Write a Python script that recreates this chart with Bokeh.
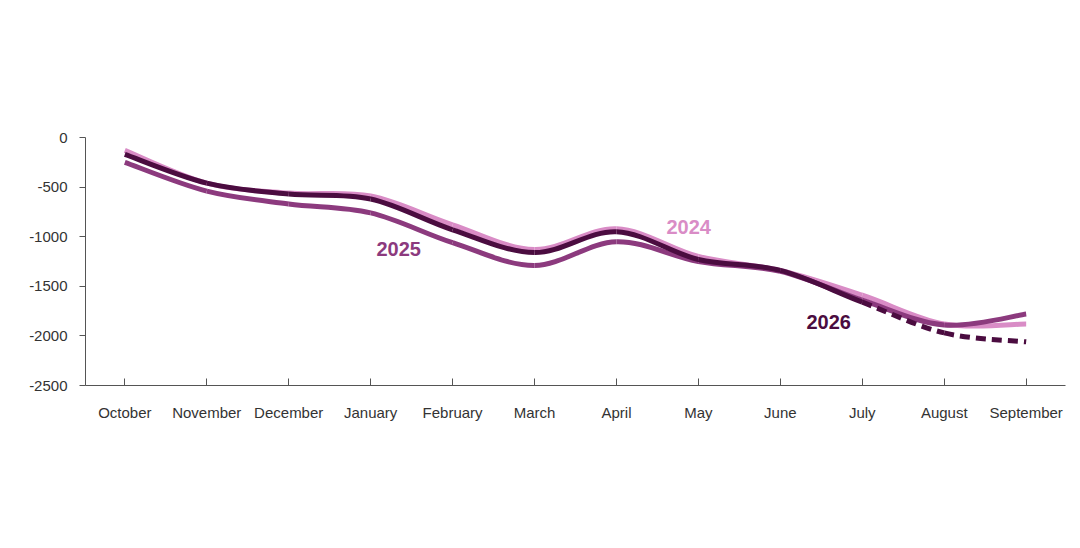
from bokeh.plotting import figure
from bokeh.models import Label, FixedTicker, Range1d, BoxAnnotation
from bokeh.embed import file_html
from bokeh.resources import INLINE

months = ["October", "November", "December", "January", "February", "March",
          "April", "May", "June", "July", "August", "September"]
fy2024 = [-130, -460, -560, -590, -880, -1130, -920, -1200, -1340, -1590, -1880, -1880]
fy2025 = [-250, -540, -670, -760, -1060, -1290, -1050, -1250, -1350, -1640, -1890, -1780]
fy2026 = [-170, -460, -570, -620, -930, -1160, -950, -1230, -1340, -1660, -1970, -2060]
actual_2026 = 10  # July onward are CBO estimates (dashed)
y_ticks = [0, -500, -1000, -1500, -2000, -2500]

C24, C25, C26 = "#d98cc6", "#8c3a7e", "#4b0c40"
W, H = 1075, 545
FL, FB = 85, 385  # frame left / bottom in page pixels

p = figure(width=W, height=H, output_backend="svg", toolbar_location=None,
           x_range=Range1d(-0.48, 11.48), y_range=Range1d(-2500, 0),
           min_border_left=FL, min_border_right=10, min_border_top=137,
           min_border_bottom=H - FB)
p.outline_line_color = None
p.grid.grid_line_color = None


def smooth(xs, ys, color, dash="solid", start=0, end=None):
    n = len(xs)
    end = n - 1 if end is None else end
    x0, y0, x1, y1, cx0, cy0, cx1, cy1 = [], [], [], [], [], [], [], []
    for i in range(start, end):
        a = max(i - 1, 0)
        d = min(i + 2, n - 1)
        x0.append(xs[i]); y0.append(ys[i]); x1.append(xs[i + 1]); y1.append(ys[i + 1])
        cx0.append(xs[i] + (xs[i + 1] - xs[a]) / 6); cy0.append(ys[i] + (ys[i + 1] - ys[a]) / 6)
        cx1.append(xs[i + 1] - (xs[d] - xs[i]) / 6); cy1.append(ys[i + 1] - (ys[d] - ys[i]) / 6)
    p.bezier(x0=x0, y0=y0, x1=x1, y1=y1, cx0=cx0, cy0=cy0, cx1=cx1, cy1=cy1,
             line_color=color, line_width=5, line_dash=dash)


idx = list(range(len(months)))
smooth(idx, fy2024, C24)
smooth(idx, fy2025, C25)
smooth(idx, fy2026, C26, end=actual_2026 - 1)
smooth(idx, fy2026, C26, dash="10 6", start=actual_2026 - 1)

p.xaxis.ticker = FixedTicker(ticks=idx)
p.xaxis.major_label_overrides = {i: m for i, m in enumerate(months)}
p.xaxis.major_tick_in = 7
p.xaxis.major_tick_out = 0
p.xaxis.major_label_standoff = 18
p.yaxis.ticker = FixedTicker(ticks=y_ticks)
p.yaxis.major_label_overrides = {t: str(t) for t in y_ticks}
p.yaxis.major_tick_in = 0
p.yaxis.major_tick_out = 6
p.yaxis.major_label_standoff = 12
for ax in (p.xaxis, p.yaxis):
    ax.axis_line_color = "#555555"
    ax.major_tick_line_color = "#555555"
    ax.minor_tick_line_color = None
    ax.major_label_text_font = "Liberation Sans"
    ax.major_label_text_font_size = "15px"
    ax.major_label_text_color = "#333333"


def lab(x, y, text, size="15px", color="#333333", style="normal", font="Liberation Sans"):
    p.add_layout(Label(x=x - FL, y=FB - y, x_units="screen", y_units="screen", text=text,
                       text_font=font, text_font_size=size, text_color=color,
                       text_font_style=style, text_baseline="middle"))


lab(12, 21, "图表 7：美国 2026 财年赤字可能较 2024、2025 年扩大", "19px", "#1a1a1a",
    "bold italic", "Noto Sans CJK SC")
lab(28, 67, "Cumulative Monthly Deficits", "19px", "#333333", "bold")
lab(28, 90, "Fiscal Years 2024 to 2026", "19px", "#333333", "bold")
lab(28, 115, "Billions of Dollars", "14.5px")
lab(666, 226, "2024", "20px", C24, "bold")
lab(376, 248, "2025", "20px", C25, "bold")
lab(806, 321, "2026", "20px", C26, "bold")
lab(28, 437, "Data Sources: Congressional Budget Office; Department of the Treasury.", "13px", "#222222")
lab(28, 455, "The values shown for July, August, and September 2026 are CBO's estimates.", "13px", "#222222")
lab(28, 473, "Values for all months have been adjusted to exclude the effects of timing shifts.", "13px", "#222222")
lab(10, 527, "来源：CBO，国金证券研究所", "14px", "#222222", "normal", "Noto Sans CJK SC")

for yy in (41, 507):
    p.add_layout(BoxAnnotation(left=5 - FL, right=1072 - FL, top=FB - yy, bottom=FB - yy - 1.5,
                               top_units="screen", bottom_units="screen",
                               left_units="screen", right_units="screen",
                               fill_color="#2c4a63", fill_alpha=1, line_color=None,
                               level="overlay"))

open("out.html", "w").write(file_html(p, INLINE))
